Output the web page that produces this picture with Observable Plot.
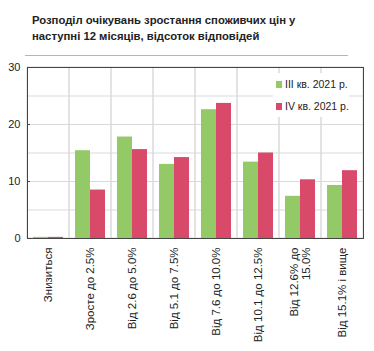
<!DOCTYPE html>
<html><head><meta charset="utf-8">
<script src="https://cdn.jsdelivr.net/npm/d3@7"></script>
<script src="https://cdn.jsdelivr.net/npm/@observablehq/plot@0.6"></script>
<style>
body{margin:0;background:#fff;font-family:"Liberation Sans",Arial,sans-serif;}
#wrap{position:relative;width:374px;height:351px;}
#title{position:absolute;left:32px;top:13px;font-weight:bold;font-size:11.3px;line-height:15.5px;color:#222;}
#rule{position:absolute;left:25px;top:55px;width:323px;height:0;border-top:1.5px solid #a3c97a;}
#chart{position:absolute;left:0;top:58px;}
#legend{position:absolute;left:273px;top:73px;width:76px;height:44px;background:#fff;font-size:10.5px;color:#222;}
#legend div{display:flex;align-items:center;height:22px;}
#legend span.sw{display:inline-block;width:6px;height:7px;margin-right:3px;margin-left:3px;}
</style></head>
<body><div id="wrap">
<div id="title">Розподіл очікувань зростання споживчих цін у<br>наступні 12 місяців, відсоток відповідей</div>
<div id="rule"></div>
<div id="chart"></div>
<div id="legend"></div>
</div>
<script>
const categories = ["Знизиться","Зросте до 2.5%","Від 2.6 до 5.0%","Від 5.1 до 7.5%","Від 7.6 до 10.0%","Від 10.1 до 12.5%","Від 12.6% до\n15.0%","Від 15.1% і вище"];
const seriesNames = ["III кв. 2021 р.","IV кв. 2021 р."];
const q3 = [0.2,15.4,17.8,13.0,22.6,13.4,7.4,9.3];
const q4 = [0.2,8.5,15.6,14.2,23.7,15.0,10.3,11.9];
const colors = ["#93c966","#d9496a"];
const yTicks = [0,10,20,30];

const data3 = categories.map((c,i)=>({cat:c,v:q3[i]}));
const data4 = categories.map((c,i)=>({cat:c,v:q4[i]}));

const chart = Plot.plot({
  width:374, height:293,
  marginTop:9, marginBottom:113, marginLeft:27, marginRight:11,
  style:{fontFamily:"Liberation Sans, Arial, sans-serif", fontSize:"11px", color:"#222"},
  x:{domain:categories, padding:0, label:null},
  y:{domain:[0,30], label:null},
  marks:[
    Plot.gridY(d3.range(0,31,5),{stroke:"#d9d9d9", strokeOpacity:1}),
    Plot.cell(categories,{x:d=>d, fill:"none", stroke:"#d9d9d9"}),
    Plot.barY(data3,{x:"cat", y:"v", fill:colors[0], insetLeft:6, insetRight:21}),
    Plot.barY(data4,{x:"cat", y:"v", fill:colors[1], insetLeft:21, insetRight:6}),
    Plot.frame({stroke:"#444"}),
    Plot.axisY(yTicks,{tickSize:-3, tickPadding:10, stroke:"#444", fontSize:11}),
    Plot.axisX({tickSize:0, tickRotate:-90, tickPadding:9, fontSize:11.5, lineHeight:1.05}),
  ]
});
document.getElementById("chart").appendChild(chart);

const lg = document.getElementById("legend");
seriesNames.forEach((n,i)=>{
  const d=document.createElement("div");
  d.innerHTML=`<span class="sw" style="background:${colors[i]}"></span>${n}`;
  lg.appendChild(d);
});
</script>
</body></html>
